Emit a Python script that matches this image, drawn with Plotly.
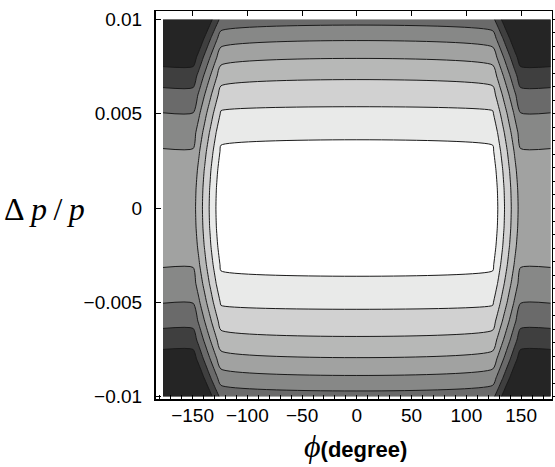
import plotly.graph_objects as go

# ---- data ----
phi_nodes = [-177, -149.5, -144, -139, -134, -129, -124, 124, 129, 134, 139, 144, 149.5, 177]
phi_term = [63.2, 63.2, 49.9, 37.3, 24.7, 12.1, 0, 0, 12.1, 24.7, 37.3, 49.9, 63.2, 63.2]

dp_nodes = [-0.010, -0.009, -0.008, -0.007, -0.006, -0.005, -0.004, -0.003, -0.002, -0.001, 0.0,
            0.001, 0.002, 0.003, 0.004, 0.005, 0.006, 0.007, 0.008, 0.009, 0.010]
dp_term = [100, 81, 64, 49, 36, 25, 16, 9, 4, 1, 0, 1, 4, 9, 16, 25, 36, 49, 64, 81, 100]

level_start = 11.35
level_step = 15.48
level_end = 120

band_colors = ["#ffffff", "#e9eae9", "#d1d1d1", "#b7b8b7", "#a1a2a1",
               "#878887", "#6a6a6a", "#3f3f3f", "#252525"]

x_major = [-150, -100, -50, 0, 50, 100, 150]
x_major_text = ["\u2212150", "\u2212100", "\u221250", "0", "50", "100", "150"]
x_minor = list(range(-180, 181, 10))
y_major = [-0.01, -0.005, 0, 0.005, 0.01]
y_major_text = ["\u22120.01", "\u22120.005", "0", "0.005", "0.01"]

# ---- grid for the contour trace ----
z = [[dp_term[j] + phi_term[i] for i in range(len(phi_nodes))] for j in range(len(dp_nodes))]

n = len(band_colors) - 1
colorscale = [[k / n, c] for k, c in enumerate(band_colors)]

fig = go.Figure()
fig.add_trace(go.Contour(
    x=phi_nodes, y=dp_nodes, z=z,
    colorscale=colorscale, showscale=False,
    contours=dict(start=level_start, end=level_end, size=level_step, coloring="fill"),
    line=dict(color="#1a1a1a", width=1, smoothing=0.6),
    hoverinfo="skip",
))
# invisible trace to carry the top/right frame axes
fig.add_trace(go.Scatter(x=[0], y=[0], xaxis="x2", yaxis="y2", mode="markers",
                         marker=dict(opacity=0), showlegend=False, hoverinfo="skip"))

xr = [-183.4, 178.2]
yr = [-0.01013, 0.01045]
tick_font = dict(family="Liberation Sans, Arial, sans-serif", size=19, color="black")

x_text_all = []
for v in x_minor:
    if v in x_major:
        x_text_all.append(x_major_text[x_major.index(v)])
    else:
        x_text_all.append("")

fig.update_layout(
    width=555, height=467, autosize=False,
    margin=dict(l=156, r=3, t=11, b=68),
    paper_bgcolor="white", plot_bgcolor="white",
    showlegend=False,
    xaxis=dict(range=xr, showgrid=False, zeroline=False, showline=True, linecolor="black",
               linewidth=1.5, ticks="inside", ticklen=4, tickwidth=1, tickcolor="black",
               tickmode="array", tickvals=x_minor, ticktext=x_text_all, automargin=False,
               tickfont=tick_font, ticklabelstandoff=-2),
    xaxis2=dict(range=xr, overlaying="x", side="top", showgrid=False, zeroline=False,
                showline=True, linecolor="black", linewidth=1, ticks="inside", ticklen=5,
                tickcolor="black", tickmode="array", tickvals=x_major, showticklabels=False,
                automargin=False),
    yaxis=dict(range=yr, showgrid=False, zeroline=False, showline=True, linecolor="black",
               linewidth=2, ticks="inside", ticklen=5, tickwidth=1, tickcolor="black",
               tickmode="array", tickvals=y_major, ticktext=y_major_text, automargin=False,
               tickfont=tick_font, ticklabelstandoff=8),
    yaxis2=dict(range=yr, overlaying="y", side="right", showgrid=False, zeroline=False,
                showline=True, linecolor="black", linewidth=1, ticks="outside", ticklen=3,
                tickcolor="black", tick0=-0.01, dtick=0.02 / 28, showticklabels=False,
                automargin=False),
    annotations=[
        dict(text="\u0394\u2009<i>p</i>\u2009/\u2009<i>p</i>", xref="paper", yref="paper",
             x=-0.282, y=0.49, xanchor="center", yanchor="middle", showarrow=False,
             font=dict(family="Liberation Serif, Times New Roman, serif", size=32, color="black")),
        dict(text="<span style=\"font-family:'Liberation Serif';font-size:32px\"><i>\u03d5</i></span>"
                  "<b>(degree)</b>", xref="paper", yref="paper",
             x=0.505, y=-0.122, xanchor="center", yanchor="middle", showarrow=False,
             font=dict(family="Liberation Sans, Arial, sans-serif", size=22, color="black")),
    ],
)

fig.write_html("out.html", config={"displayModeBar": False},
               post_script="document.body.style.margin='0';")
